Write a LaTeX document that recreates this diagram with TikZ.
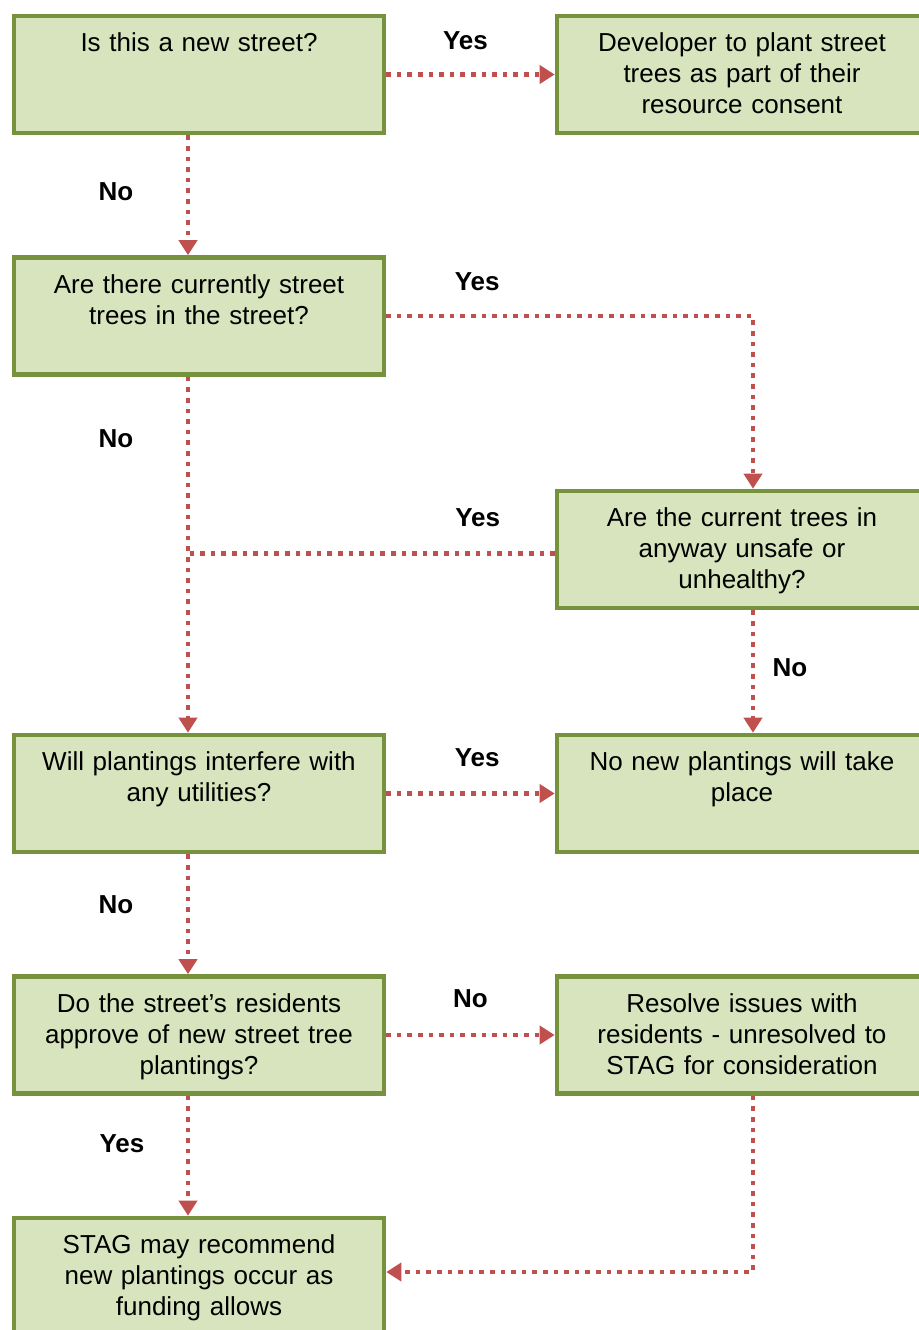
\documentclass[tikz,border=0pt]{standalone}
\usepackage{fontspec}
\setmainfont{Liberation Sans}
\usepackage{tikz}
\usetikzlibrary{arrows.meta,positioning}

\definecolor{boxline}{RGB}{118,146,60}
\definecolor{boxfill}{RGB}{215,228,189}
\definecolor{flowred}{RGB}{192,80,77}

\begin{document}
\begin{tikzpicture}[->,>={Triangle[length=7.5pt,width=9pt]},node distance=120.75pt,
                    font=\fontsize{13}{15.5}\selectfont]

  \tikzstyle{box}=[rectangle,draw=boxline,fill=boxfill,line width=2.3pt,
                   text width=171pt,inner xsep=7pt,inner ysep=0pt,align=center,
                   text height=17.75pt,text depth=40.75pt]
  \tikzstyle{flow}=[draw=flowred,line width=2.3pt,dash pattern=on 2.3pt off 3pt]
  \tikzstyle{ans}=[font=\bfseries\fontsize{13}{15.5}\selectfont]

  \useasboundingbox (-99.5pt,37.25pt) rectangle (360pt,-627.75pt);
  \clip (-99.5pt,37.25pt) rectangle (360pt,-627.75pt);

  \node[box] (NEW)                                  {Is this a new street?};
  \node[box] (DEV) [right of=NEW,node distance=271.5pt] {Developer to plant street \\ trees as part of their \\ resource consent};
  \node[box] (CUR) [below of=NEW]                   {Are there currently street \\ trees in the street?};
  \node[box] (UNS) [below of=DEV,node distance=237.5pt] {Are the current trees in \\ anyway unsafe or \\ unhealthy?};

  \node[box] (UTL) [below of=CUR,node distance=238.75pt] {Will plantings interfere with \\ any utilities?};
  \node[box] (NOP) [right of=UTL,node distance=271.5pt]  {No new plantings will take \\ place};

  \node[box] (APP) [below of=UTL]                   {Do the street's residents \\ approve of new street tree \\ plantings?};
  \node[box] (RES) [right of=APP,node distance=271.5pt] {Resolve issues with \\ residents - unresolved to \\ STAG for consideration};
  \node[box] (REC) [below of=APP]                   {STAG may recommend \\ new plantings occur as \\ funding allows};

  \path ([xshift=-5.5pt]CUR.south) coordinate (trunk)
        ([yshift=-2pt]UNS.west)    coordinate (unsW);

  \path
  (NEW) edge [flow] node[ans,pos=.47,yshift=17pt] {Yes} (DEV)
  ([xshift=-5.5pt]NEW.south) edge [flow] node[ans,pos=.47,xshift=-36pt] {No} ([xshift=-5.5pt]CUR.north)
  ([xshift=-5.5pt]CUR.south) edge [flow] node[ans,pos=.174,xshift=-36pt] {No} ([xshift=-5.5pt]UTL.north)
  ([xshift=5.5pt]UNS.south)  edge [flow] node[ans,pos=.47,xshift=18.5pt] {No} ([xshift=5.5pt]NOP.north)

  (UTL) edge [flow] node[ans,pos=.54,yshift=18pt] {Yes} (NOP)
  ([xshift=-5.5pt]UTL.south) edge [flow] node[ans,pos=.42,xshift=-36pt] {No} ([xshift=-5.5pt]APP.north)
  (APP) edge [flow] node[ans,pos=.5,yshift=18pt] {No} (RES)
  ([xshift=-5.5pt]APP.south) edge [flow] node[ans,pos=.4,xshift=-33pt] {Yes} ([xshift=-5.5pt]REC.north)
  ;

  \draw[flow] (CUR.east) -| node[ans,pos=.124,yshift=17pt] {Yes} ([xshift=5.5pt]UNS.north);
  \draw[flow,-] (unsW) -- node[ans,pos=.21,yshift=18pt] {Yes} (trunk |- unsW);
  \draw[flow] ([xshift=5.5pt]RES.south) |- ([yshift=2.25pt]REC.east);
\end{tikzpicture}
\end{document}
